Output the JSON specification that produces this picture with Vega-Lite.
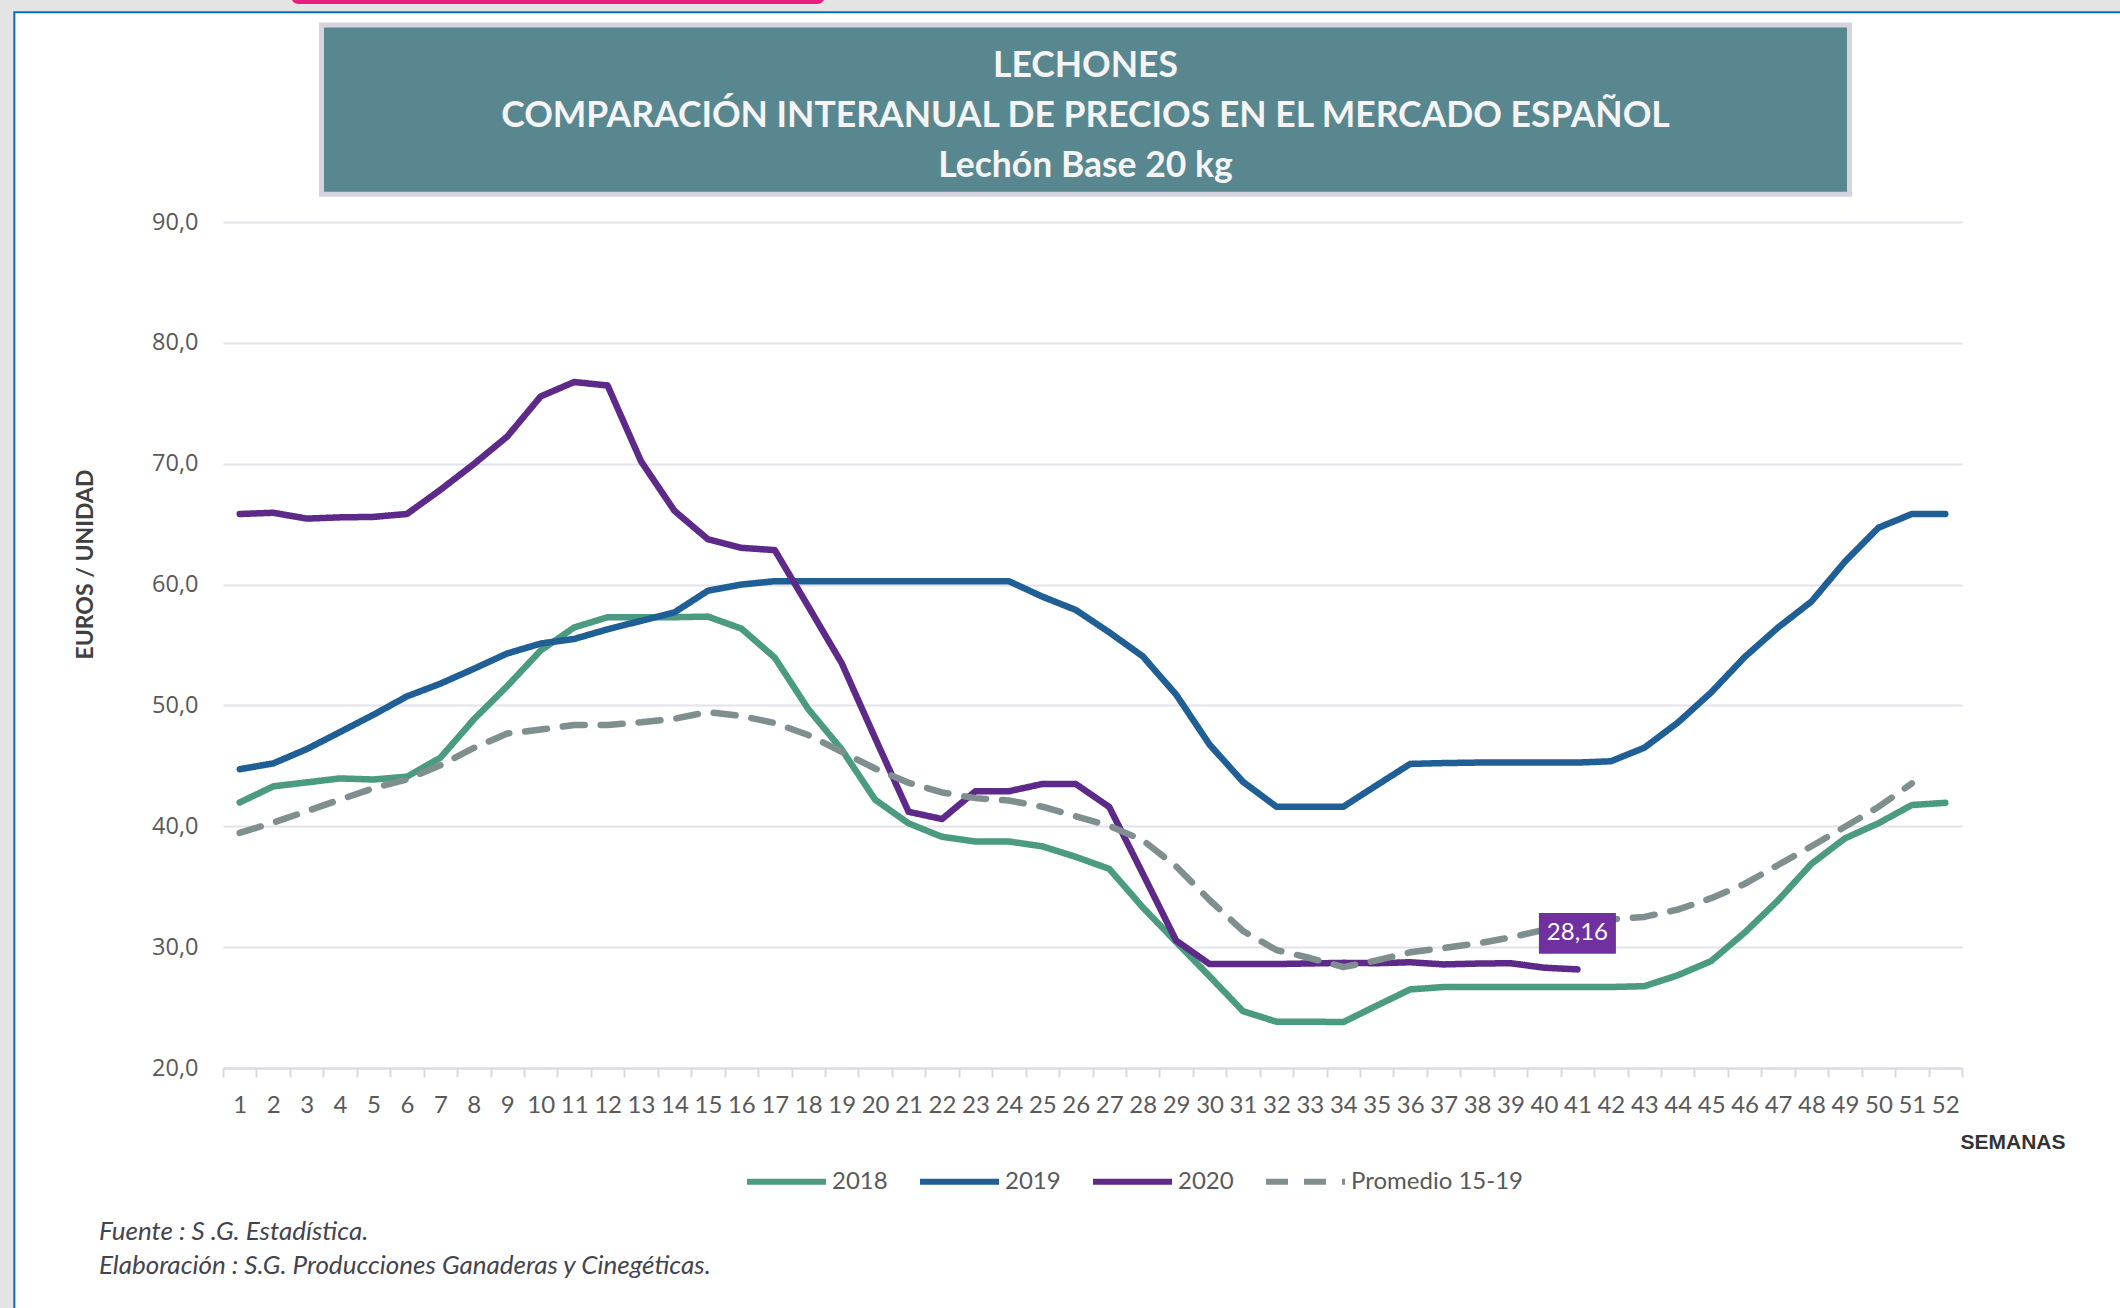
{
  "$schema": "https://vega.github.io/schema/vega-lite/v6.json",
  "width": 1739,
  "height": 846,
  "autosize": {"type": "none"},
  "padding": {"left": 223, "top": 222, "right": 158, "bottom": 240},
  "background": "white",
  "config": {"view": {"stroke": null}},
  "datasets": {
    "precios": [
      {"week": 1, "2018": 41.97, "2019": 44.72, "2020": 65.84, "Promedio 15-19": 39.45},
      {"week": 2, "2018": 43.3, "2019": 45.2, "2020": 65.94, "Promedio 15-19": 40.3},
      {"week": 3, "2018": 43.63, "2019": 46.38, "2020": 65.46, "Promedio 15-19": 41.25},
      {"week": 4, "2018": 43.96, "2019": 47.8, "2020": 65.56, "Promedio 15-19": 42.2},
      {"week": 5, "2018": 43.87, "2019": 49.23, "2020": 65.6, "Promedio 15-19": 43.15},
      {"week": 6, "2018": 44.1, "2019": 50.75, "2020": 65.84, "Promedio 15-19": 43.87},
      {"week": 7, "2018": 45.67, "2019": 51.8, "2020": 67.84, "Promedio 15-19": 45.05},
      {"week": 8, "2018": 48.85, "2019": 53.03, "2020": 69.97, "Promedio 15-19": 46.48},
      {"week": 9, "2018": 51.6, "2019": 54.3, "2020": 72.25, "Promedio 15-19": 47.67},
      {"week": 10, "2018": 54.55, "2019": 55.12, "2020": 75.57, "Promedio 15-19": 48.0},
      {"week": 11, "2018": 56.45, "2019": 55.5, "2020": 76.76, "Promedio 15-19": 48.38},
      {"week": 12, "2018": 57.3, "2019": 56.3, "2020": 76.47, "Promedio 15-19": 48.38},
      {"week": 13, "2018": 57.3, "2019": 57.0, "2020": 70.2, "Promedio 15-19": 48.6},
      {"week": 14, "2018": 57.3, "2019": 57.7, "2020": 66.1, "Promedio 15-19": 48.9},
      {"week": 15, "2018": 57.35, "2019": 59.49, "2020": 63.75, "Promedio 15-19": 49.45},
      {"week": 16, "2018": 56.36, "2019": 60.0, "2020": 63.04, "Promedio 15-19": 49.13},
      {"week": 17, "2018": 53.95, "2019": 60.28, "2020": 62.85, "Promedio 15-19": 48.54},
      {"week": 18, "2018": 49.7, "2019": 60.28, "2020": 58.2, "Promedio 15-19": 47.55},
      {"week": 19, "2018": 46.36, "2019": 60.28, "2020": 53.5, "Promedio 15-19": 46.17},
      {"week": 20, "2018": 42.2, "2019": 60.28, "2020": 47.3, "Promedio 15-19": 44.78},
      {"week": 21, "2018": 40.24, "2019": 60.28, "2020": 41.2, "Promedio 15-19": 43.6},
      {"week": 22, "2018": 39.13, "2019": 60.28, "2020": 40.6, "Promedio 15-19": 42.8},
      {"week": 23, "2018": 38.74, "2019": 60.28, "2020": 42.9, "Promedio 15-19": 42.33},
      {"week": 24, "2018": 38.74, "2019": 60.28, "2020": 42.9, "Promedio 15-19": 42.13},
      {"week": 25, "2018": 38.34, "2019": 59.0, "2020": 43.5, "Promedio 15-19": 41.62},
      {"week": 26, "2018": 37.47, "2019": 57.9, "2020": 43.5, "Promedio 15-19": 40.83},
      {"week": 27, "2018": 36.48, "2019": 56.05, "2020": 41.6, "Promedio 15-19": 40.04},
      {"week": 28, "2018": 33.3, "2019": 54.07, "2020": 36.1, "Promedio 15-19": 38.85},
      {"week": 29, "2018": 30.43, "2019": 50.9, "2020": 30.55, "Promedio 15-19": 36.68},
      {"week": 30, "2018": 27.59, "2019": 46.76, "2020": 28.6, "Promedio 15-19": 33.9},
      {"week": 31, "2018": 24.7, "2019": 43.68, "2020": 28.6, "Promedio 15-19": 31.34},
      {"week": 32, "2018": 23.83, "2019": 41.62, "2020": 28.6, "Promedio 15-19": 29.76},
      {"week": 33, "2018": 23.83, "2019": 41.62, "2020": 28.65, "Promedio 15-19": 29.1},
      {"week": 34, "2018": 23.8, "2019": 41.62, "2020": 28.7, "Promedio 15-19": 28.35},
      {"week": 35, "2018": 25.16, "2019": 43.4, "2020": 28.67, "Promedio 15-19": 28.9},
      {"week": 36, "2018": 26.5, "2019": 45.16, "2020": 28.75, "Promedio 15-19": 29.57},
      {"week": 37, "2018": 26.7, "2019": 45.23, "2020": 28.57, "Promedio 15-19": 29.93},
      {"week": 38, "2018": 26.7, "2019": 45.27, "2020": 28.64, "Promedio 15-19": 30.3},
      {"week": 39, "2018": 26.7, "2019": 45.27, "2020": 28.67, "Promedio 15-19": 30.8},
      {"week": 40, "2018": 26.7, "2019": 45.27, "2020": 28.3, "Promedio 15-19": 31.43},
      {"week": 41, "2018": 26.7, "2019": 45.27, "2020": 28.16, "Promedio 15-19": 31.9},
      {"week": 42, "2018": 26.7, "2019": 45.38, "2020": null, "Promedio 15-19": 32.3},
      {"week": 43, "2018": 26.77, "2019": 46.5, "2020": null, "Promedio 15-19": 32.5},
      {"week": 44, "2018": 27.67, "2019": 48.57, "2020": null, "Promedio 15-19": 33.1},
      {"week": 45, "2018": 28.85, "2019": 51.08, "2020": null, "Promedio 15-19": 34.05},
      {"week": 46, "2018": 31.2, "2019": 54.0, "2020": null, "Promedio 15-19": 35.23},
      {"week": 47, "2018": 33.87, "2019": 56.45, "2020": null, "Promedio 15-19": 36.8},
      {"week": 48, "2018": 36.9, "2019": 58.6, "2020": null, "Promedio 15-19": 38.35},
      {"week": 49, "2018": 39.0, "2019": 61.9, "2020": null, "Promedio 15-19": 39.96},
      {"week": 50, "2018": 40.25, "2019": 64.7, "2020": null, "Promedio 15-19": 41.6},
      {"week": 51, "2018": 41.76, "2019": 65.84, "2020": null, "Promedio 15-19": 43.55},
      {"week": 52, "2018": 41.94, "2019": 65.84, "2020": null, "Promedio 15-19": null}
    ],
    "etiqueta": [{"week": 41, "value": 28.16, "text": "28,16"}],
    "uno": [{}]
  },
  "layer": [
    {
      "layer": [
        {
          "data": {"name": "precios"},
          "transform": [{"fold": ["2018", "2019", "2020", "Promedio 15-19"], "as": ["serie", "precio"]}],
          "mark": {"type": "line", "strokeWidth": 6.5, "strokeCap": "round", "strokeJoin": "round"},
          "encoding": {
            "x": {
              "field": "week", "type": "ordinal", "bandPosition": 0.5,
              "scale": {"type": "band", "paddingInner": 0, "paddingOuter": 0},
              "axis": {
                "labelAngle": 0,
                "labelOverlap": false,
                "tickBand": "extent",
                "grid": false,
                "domainColor": "#D9D8E4",
                "domainWidth": 2,
                "tickColor": "#D9D8E4",
                "tickWidth": 2,
                "tickSize": 9,
                "labelFont": "Lato",
                "labelFontSize": 24,
                "labelColor": "#595959",
                "labelBaseline": "alphabetic",
                "labelPadding": 35,
                "title": "SEMANAS",
                "titleFont": "Liberation Sans",
                "titleFontWeight": "bold",
                "titleFontSize": 21,
                "titleColor": "#333333",
                "titleX": 1842,
                "titleY": 74,
                "titleAlign": "right",
                "titleBaseline": "middle"
              }
            },
            "y": {
              "field": "precio", "type": "quantitative",
              "scale": {"domain": [20, 90], "nice": false, "zero": false},
              "axis": {
                "values": [20, 30, 40, 50, 60, 70, 80, 90],
                "labelExpr": "replace(format(datum.value, '.1f'), '.', ',')",
                "grid": true,
                "gridColor": "#E3E2EB",
                "gridWidth": 2,
                "domain": false,
                "ticks": false,
                "labelFont": "Open Sans",
                "labelFontSize": 23.5,
                "labelColor": "#595959",
                "labelPadding": 25,
                "title": "EUROS / UNIDAD",
                "titleFont": "Lato",
                "titleFontWeight": "bold",
                "titleFontSize": 23,
                "titleColor": "#404040",
                "titleX": -138,
                "titleY": 342,
                "titleAngle": 270,
                "titleAlign": "center",
                "titleBaseline": "middle"
              }
            },
            "color": {
              "field": "serie", "type": "nominal",
              "scale": {"domain": ["2018", "2019", "2020", "Promedio 15-19"], "range": ["#4A9B7F", "#1F5F95", "#5E2A89", "#7F8F8F"]},
              "legend": {"orient": "none", "legendX": 521, "legendY": 917, "direction": "horizontal", "title": null, "symbolType": "stroke", "symbolSize": 6241, "symbolStrokeWidth": 6, "labelFont": "Lato", "labelFontSize": 24, "labelColor": "#595959", "labelLimit": 0, "columnPadding": 20, "labelOffset": 3}
            },
            "strokeDash": {
              "field": "serie", "type": "nominal",
              "scale": {"domain": ["2018", "2019", "2020", "Promedio 15-19"], "range": [[1, 0], [1, 0], [1, 0], [22, 16]]},
              "legend": {"orient": "none", "legendX": 521, "legendY": 917, "direction": "horizontal", "title": null, "symbolType": "stroke", "symbolSize": 6241, "symbolStrokeWidth": 6, "labelFont": "Lato", "labelFontSize": 24, "labelColor": "#595959", "labelLimit": 0, "columnPadding": 20, "labelOffset": 3}
            }
          }
        },
        {
          "data": {"name": "etiqueta"},
          "mark": {"type": "point", "shape": "M-1,-0.532L1,-0.532L1,0.532L-1,0.532Z", "size": 5929, "filled": true, "opacity": 1, "fill": "#7030A0", "strokeWidth": 0, "yOffset": -36},
          "encoding": {
            "x": {"field": "week", "type": "ordinal"},
            "y": {"field": "value", "type": "quantitative"}
          }
        },
        {
          "data": {"name": "etiqueta"},
          "mark": {"type": "text", "font": "Lato", "fontSize": 24, "color": "white", "align": "center", "baseline": "middle", "yOffset": -36},
          "encoding": {
            "x": {"field": "week", "type": "ordinal"},
            "y": {"field": "value", "type": "quantitative"},
            "text": {"field": "text"}
          }
        }
      ]
    },
    {
      "layer": [
        {
          "data": {"name": "uno"},
          "mark": {"type": "rect", "fill": "#E4E4E4"},
          "encoding": {
            "x": {"datum": -10, "type": "quantitative", "scale": {"domain": [0.5, 52.5], "nice": false, "zero": false}, "axis": null},
            "x2": {"datum": 70},
            "y": {"datum": 125, "type": "quantitative", "scale": {"domain": [20, 90], "nice": false, "zero": false}, "axis": null},
            "y2": {"datum": 107.35}
          }
        },
        {
          "data": {"name": "uno"},
          "mark": {"type": "rect", "fill": "#E4E4E4"},
          "encoding": {
            "x": {"datum": -10, "type": "quantitative", "axis": null},
            "x2": {"datum": -5.74},
            "y": {"datum": 125, "type": "quantitative", "axis": null},
            "y2": {"datum": -20}
          }
        },
        {
          "data": {"name": "uno"},
          "mark": {"type": "rect", "fillOpacity": 0, "stroke": "#0070C0", "strokeWidth": 2},
          "encoding": {
            "x": {"datum": -5.74, "type": "quantitative", "axis": null},
            "x2": {"datum": 70},
            "y": {"datum": 107.35, "type": "quantitative", "axis": null},
            "y2": {"datum": -20}
          }
        },
        {
          "data": {"name": "uno"},
          "mark": {"type": "rect", "fill": "#E91E7F", "cornerRadius": 8},
          "encoding": {
            "x": {"datum": 2.53, "type": "quantitative", "axis": null},
            "x2": {"datum": 18.5},
            "y": {"datum": 112, "type": "quantitative", "axis": null},
            "y2": {"datum": 108.03}
          }
        },
        {
          "data": {"name": "uno"},
          "mark": {"type": "rect", "fill": "#58878F", "stroke": "#D5D3DE", "strokeWidth": 5},
          "encoding": {
            "x": {"datum": 3.445, "type": "quantitative", "axis": null},
            "x2": {"datum": 49.135},
            "y": {"datum": 106.31, "type": "quantitative", "axis": null},
            "y2": {"datum": 92.3}
          }
        },
        {
          "data": {"name": "uno"},
          "mark": {"type": "text", "font": "Lato", "fontWeight": "bold", "fontSize": 35.5, "color": "#F4F4F4", "align": "center", "baseline": "middle"},
          "encoding": {
            "x": {"datum": 26.29, "type": "quantitative", "axis": null},
            "y": {"datum": 102.89, "type": "quantitative", "axis": null},
            "text": {"value": "LECHONES"}
          }
        },
        {
          "data": {"name": "uno"},
          "mark": {"type": "text", "font": "Lato", "fontWeight": "bold", "fontSize": 35.5, "color": "#F4F4F4", "align": "center", "baseline": "middle"},
          "encoding": {
            "x": {"datum": 26.29, "type": "quantitative", "axis": null},
            "y": {"datum": 98.75, "type": "quantitative", "axis": null},
            "text": {"value": "COMPARACIÓN INTERANUAL DE PRECIOS EN EL MERCADO ESPAÑOL"}
          }
        },
        {
          "data": {"name": "uno"},
          "mark": {"type": "text", "font": "Lato", "fontWeight": "bold", "fontSize": 35.5, "color": "#F4F4F4", "align": "center", "baseline": "middle"},
          "encoding": {
            "x": {"datum": 26.29, "type": "quantitative", "axis": null},
            "y": {"datum": 94.61, "type": "quantitative", "axis": null},
            "text": {"value": "Lechón Base 20 kg"}
          }
        },
        {
          "data": {"name": "uno"},
          "mark": {"type": "text", "font": "Lato", "fontStyle": "italic", "fontSize": 26, "color": "#44444F", "align": "left", "baseline": "middle"},
          "encoding": {
            "x": {"datum": -3.21, "type": "quantitative", "axis": null},
            "y": {"datum": 6.41, "type": "quantitative", "axis": null},
            "text": {"value": "Fuente :  S .G. Estadística."}
          }
        },
        {
          "data": {"name": "uno"},
          "mark": {"type": "text", "font": "Lato", "fontStyle": "italic", "fontSize": 26, "color": "#44444F", "align": "left", "baseline": "middle"},
          "encoding": {
            "x": {"datum": -3.21, "type": "quantitative", "axis": null},
            "y": {"datum": 3.59, "type": "quantitative", "axis": null},
            "text": {"value": "Elaboración : S.G. Producciones Ganaderas y Cinegéticas."}
          }
        }
      ]
    }
  ],
  "resolve": {"scale": {"x": "independent", "y": "independent"}, "axis": {"x": "independent", "y": "independent"}}
}
